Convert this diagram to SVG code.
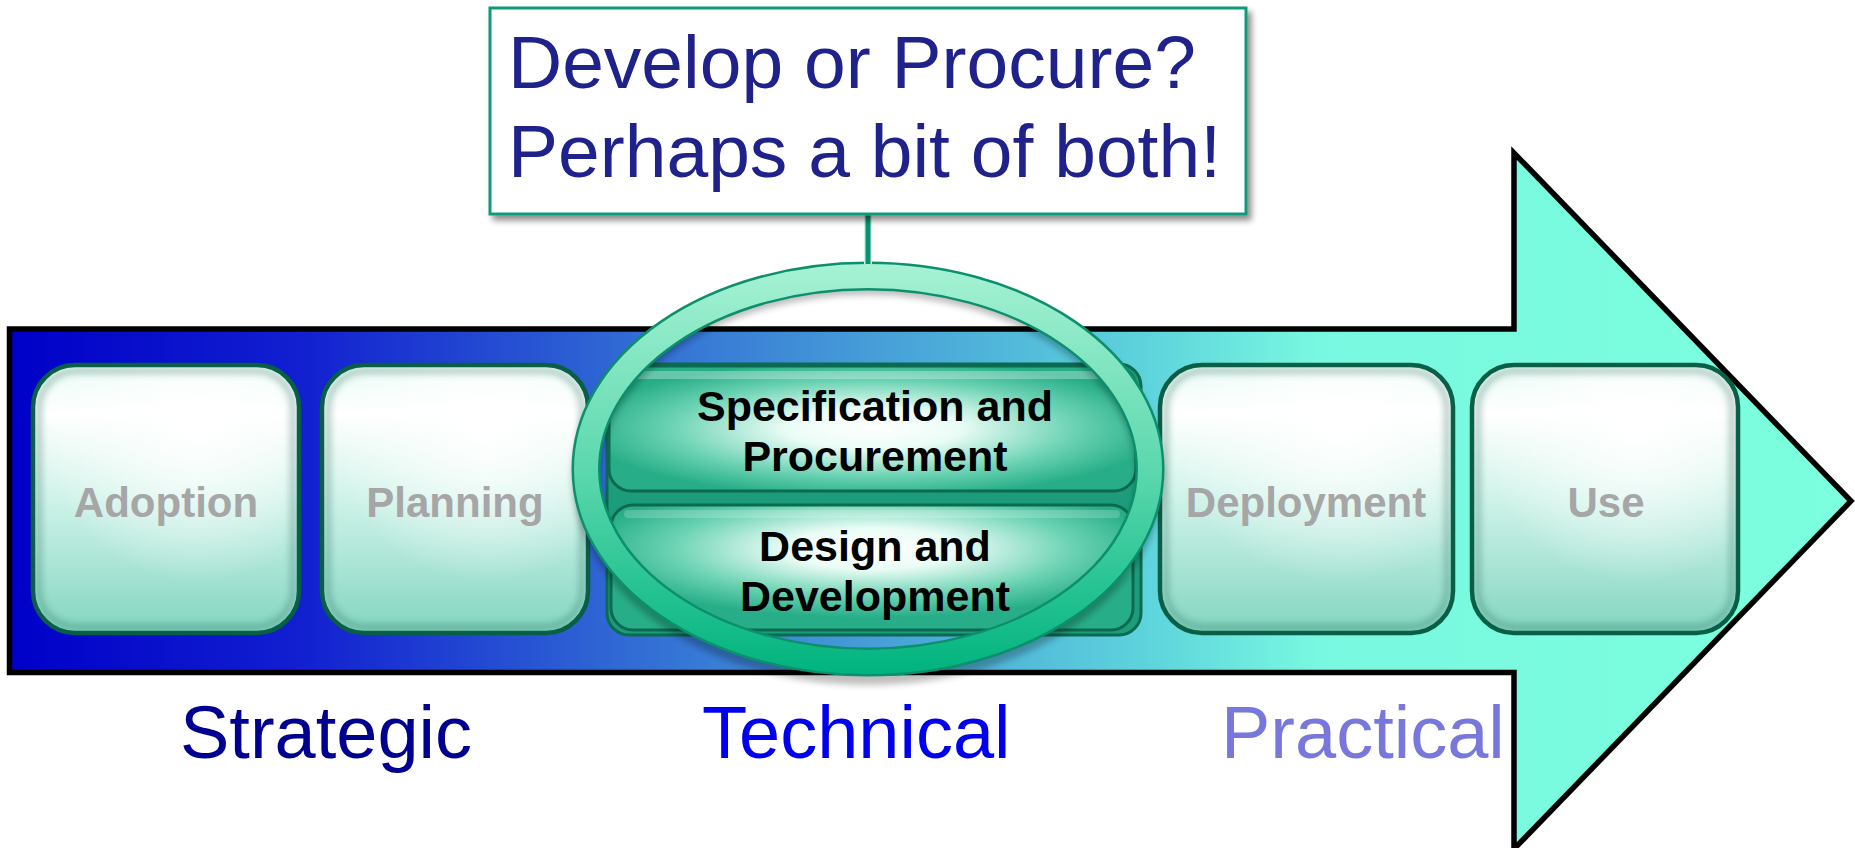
<svg xmlns="http://www.w3.org/2000/svg" width="1855" height="848" viewBox="0 0 1855 848">
<defs>
<linearGradient id="arrowFill" gradientUnits="userSpaceOnUse" x1="9" y1="0" x2="1851" y2="0">
<stop offset="0" stop-color="#0000c8"/>
<stop offset="0.16" stop-color="#1220d0"/>
<stop offset="0.33" stop-color="#3068d4"/>
<stop offset="0.48" stop-color="#48a2d8"/>
<stop offset="0.62" stop-color="#5ed4dc"/>
<stop offset="0.71" stop-color="#78f8e0"/>
<stop offset="1" stop-color="#7cffde"/>
</linearGradient>
<linearGradient id="boxFill" x1="0" y1="0" x2="0" y2="1">
<stop offset="0" stop-color="#e6fbf4"/>
<stop offset="0.18" stop-color="#ffffff"/>
<stop offset="0.45" stop-color="#d6f5ec"/>
<stop offset="0.72" stop-color="#aee6d8"/>
<stop offset="1" stop-color="#82d5bf"/>
</linearGradient>
<radialGradient id="boxGlow" cx="0.62" cy="0.22" r="0.6">
<stop offset="0" stop-color="#ffffff" stop-opacity="1"/>
<stop offset="1" stop-color="#ffffff" stop-opacity="0"/>
</radialGradient>
<radialGradient id="midFill" cx="0.5" cy="0.5" r="0.55">
<stop offset="0" stop-color="#ffffff"/>
<stop offset="0.3" stop-color="#eafcf6"/>
<stop offset="0.7" stop-color="#6ad2b2"/>
<stop offset="1" stop-color="#27ae88"/>
</radialGradient>
<radialGradient id="midFill2" cx="0.5" cy="0.35" r="0.55">
<stop offset="0" stop-color="#ffffff"/>
<stop offset="0.3" stop-color="#eafcf6"/>
<stop offset="0.7" stop-color="#6ad2b2"/>
<stop offset="1" stop-color="#27ae88"/>
</radialGradient>
<linearGradient id="ringFill" gradientUnits="userSpaceOnUse" x1="0" y1="263" x2="0" y2="675">
<stop offset="0" stop-color="#a6f2d4"/>
<stop offset="0.5" stop-color="#5cd8ae"/>
<stop offset="1" stop-color="#00b37e"/>
</linearGradient>
<filter id="shadow" x="-10%" y="-10%" width="130%" height="130%">
<feGaussianBlur in="SourceAlpha" stdDeviation="3"/>
<feOffset dx="4" dy="5" result="b"/>
<feComponentTransfer><feFuncA type="linear" slope="0.45"/></feComponentTransfer>
<feMerge><feMergeNode/><feMergeNode in="SourceGraphic"/></feMerge>
</filter>
<filter id="soft" x="-10%" y="-10%" width="120%" height="120%">
<feGaussianBlur stdDeviation="3"/>
</filter>
<style>
.box{fill:url(#boxFill);stroke:#085e46;stroke-width:4.5}
.glow{fill:url(#boxGlow)}
.inner{fill:none;stroke:#2a6a58;stroke-opacity:0.35;stroke-width:6}
.gray{font-family:"Liberation Sans",Arial,sans-serif;font-weight:bold;font-size:42px;fill:#a6a6a6;text-anchor:middle}
.mid{font-family:"Liberation Sans",Arial,sans-serif;font-weight:bold;font-size:43px;fill:#000000;text-anchor:middle}
.phase{font-family:"Liberation Sans",Arial,sans-serif;font-size:74px}
.call{font-family:"Liberation Sans",Arial,sans-serif;font-size:75px;fill:#20228c}
</style>
</defs>
<rect width="1855" height="848" fill="#ffffff"/>

<g id="arrow">
<path d="M9.5,329 H1514 V153 L1851,501 L1514,849 V672.5 H9.5 Z" fill="url(#arrowFill)" stroke="#000000" stroke-width="5.5" stroke-linejoin="miter"/>
</g>

<g id="adoption">
<rect class="box" x="33" y="365" width="266" height="268" rx="42"/>
<rect class="glow" x="36" y="368" width="260" height="262" rx="40"/>
<rect class="inner" x="39" y="371" width="254" height="256" rx="37" filter="url(#soft)"/>
<text class="gray" x="166" y="517">Adoption</text>
</g>

<g id="planning">
<rect class="box" x="322" y="365" width="266" height="268" rx="42"/>
<rect class="glow" x="325" y="368" width="260" height="262" rx="40"/>
<rect class="inner" x="328" y="371" width="254" height="256" rx="37" filter="url(#soft)"/>
<text class="gray" x="455" y="517">Planning</text>
</g>

<g id="middle-back">
<rect x="607" y="364" width="534" height="271" rx="22" fill="#1c9c7a" stroke="#0b6a50" stroke-width="3"/>
</g>

<g id="specification">
<rect x="609" y="366" width="527" height="125" rx="22" fill="url(#midFill)" stroke="#0b6a50" stroke-width="3"/>
<rect x="622" y="371" width="500" height="8" rx="4" fill="#ffffff" opacity="0.3"/>
<text class="mid" x="875" y="421">Specification and</text>
<text class="mid" x="875" y="471">Procurement</text>
</g>

<g id="design">
<rect x="611" y="505" width="522" height="125" rx="22" fill="url(#midFill2)" stroke="#0b6a50" stroke-width="3"/>
<rect x="624" y="510" width="496" height="8" rx="4" fill="#ffffff" opacity="0.2"/>
<text class="mid" x="875" y="561">Design and</text>
<text class="mid" x="875" y="611">Development</text>
</g>

<g id="deployment">
<rect class="box" x="1160" y="365" width="293" height="268" rx="42"/>
<rect class="glow" x="1163" y="368" width="287" height="262" rx="40"/>
<rect class="inner" x="1166" y="371" width="281" height="256" rx="37" filter="url(#soft)"/>
<text class="gray" x="1306" y="517">Deployment</text>
</g>

<g id="use">
<rect class="box" x="1472" y="365" width="266" height="268" rx="42"/>
<rect class="glow" x="1475" y="368" width="260" height="262" rx="40"/>
<rect class="inner" x="1478" y="371" width="254" height="256" rx="37" filter="url(#soft)"/>
<text class="gray" x="1606" y="517">Use</text>
</g>

<g id="focus-ring">
<ellipse cx="868" cy="471" rx="282" ry="195" fill="none" stroke="#000000" stroke-opacity="0.25" stroke-width="28" filter="url(#soft)" transform="translate(0,5)"/>
<ellipse cx="868" cy="469" rx="282" ry="193" fill="none" stroke="#0c8f6c" stroke-width="29"/>
<ellipse cx="868" cy="469" rx="282" ry="193" fill="none" stroke="url(#ringFill)" stroke-width="24"/>
</g>

<g id="connectors">
<line x1="868" y1="214" x2="868" y2="264" stroke="#c8f6e6" stroke-width="8"/>
<line x1="868" y1="214" x2="868" y2="264" stroke="#0a9070" stroke-width="5"/>
</g>

<g id="callout">
<rect x="490" y="8" width="756" height="206" fill="#ffffff" stroke="#119a7a" stroke-width="3" filter="url(#shadow)"/>
<text class="call" x="508" y="88">Develop or Procure?</text>
<text class="call" x="508" y="177">Perhaps a bit of both!</text>
</g>

<g id="phase-labels">
<text class="phase" x="180" y="758" fill="#000090">Strategic</text>
<text class="phase" x="702" y="758" fill="#0000ee">Technical</text>
<text class="phase" x="1221" y="758" fill="#7878dc">Practical</text>
</g>
</svg>
